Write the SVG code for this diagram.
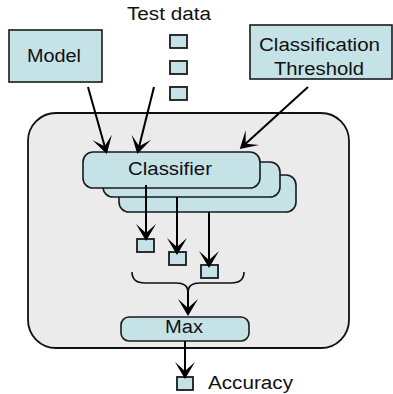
<svg xmlns="http://www.w3.org/2000/svg" width="393" height="394" viewBox="0 0 393 394">
<style>
.box{fill:#c5e2e6;stroke:#1a1a1a;stroke-width:1.6}
.sq{fill:#c5e2e6;stroke:#1a1a1a;stroke-width:1.8}
.t{font-family:"Liberation Sans",Arial,sans-serif;font-size:18px;fill:#111}
.ln{fill:none;stroke:#000;stroke-width:2;marker-end:url(#ah)}
</style>
<defs>
<marker id="ah" viewBox="-18 -11 19 22" markerWidth="19" markerHeight="22" refX="-3" refY="0" orient="auto" markerUnits="userSpaceOnUse">
<path d="M0,0 L-17,-10 L-8,0 L-17,10 Z" fill="#000"/>
</marker>
</defs>
<rect width="393" height="394" fill="#fff"/>
<g id="container"><rect x="28" y="113" width="321" height="235" rx="28" fill="#ebebeb" stroke="#111" stroke-width="1.8"/></g>
<g id="model"><rect class="box" x="9" y="30" width="93" height="52"/><text class="t" x="27" y="62" textLength="54" lengthAdjust="spacingAndGlyphs">Model</text></g>
<g id="testdata"><text class="t" x="127" y="20" textLength="84" lengthAdjust="spacingAndGlyphs">Test data</text>
<rect class="sq" x="170" y="35" width="17" height="13"/><rect class="sq" x="170" y="61" width="17" height="13"/><rect class="sq" x="170" y="87" width="17" height="13"/></g>
<g id="threshold"><rect class="box" x="250" y="25" width="142" height="54"/><text class="t" x="259" y="51" textLength="121" lengthAdjust="spacingAndGlyphs">Classification</text><text class="t" x="274" y="75" textLength="90" lengthAdjust="spacingAndGlyphs">Threshold</text></g>
<g id="classifier">
<rect class="box" x="119" y="175" width="177" height="37" rx="10"/>
<rect class="box" x="103" y="162" width="177" height="35" rx="10"/>
<rect class="box" x="83" y="152" width="177" height="36" rx="10"/>
<text class="t" x="128" y="175" textLength="84" lengthAdjust="spacingAndGlyphs">Classifier</text></g>
<g id="results"><rect class="sq" x="137" y="239" width="17" height="13"/><rect class="sq" x="169" y="252" width="17" height="13"/><rect class="sq" x="201" y="265" width="17" height="13"/></g>
<g id="max"><rect class="box" x="121" y="317" width="128" height="24" rx="8"/><text class="t" x="165" y="333" textLength="38" lengthAdjust="spacingAndGlyphs">Max</text></g>
<g id="accuracy"><rect class="sq" x="177" y="377" width="16" height="13"/><text class="t" x="208" y="389" textLength="85" lengthAdjust="spacingAndGlyphs">Accuracy</text></g>
<g id="connectors">
<line class="ln" x1="88" y1="87" x2="106" y2="151"/>
<line class="ln" x1="154" y1="87" x2="138" y2="151"/>
<line class="ln" x1="308" y1="87" x2="242" y2="147"/>
<line class="ln" x1="146" y1="185" x2="146" y2="238"/>
<line class="ln" x1="177" y1="197" x2="177" y2="252"/>
<line class="ln" x1="209" y1="212" x2="209" y2="265"/>
<path d="M132,272 Q132,283 145,283 L176,283 Q188,283 188,292 Q188,283 200,283 L231,283 Q244,283 244,272" fill="none" stroke="#111" stroke-width="1.6"/>
<line class="ln" x1="188" y1="291" x2="188" y2="313"/>
<line class="ln" x1="185" y1="341" x2="185" y2="376"/>
</g>
</svg>
